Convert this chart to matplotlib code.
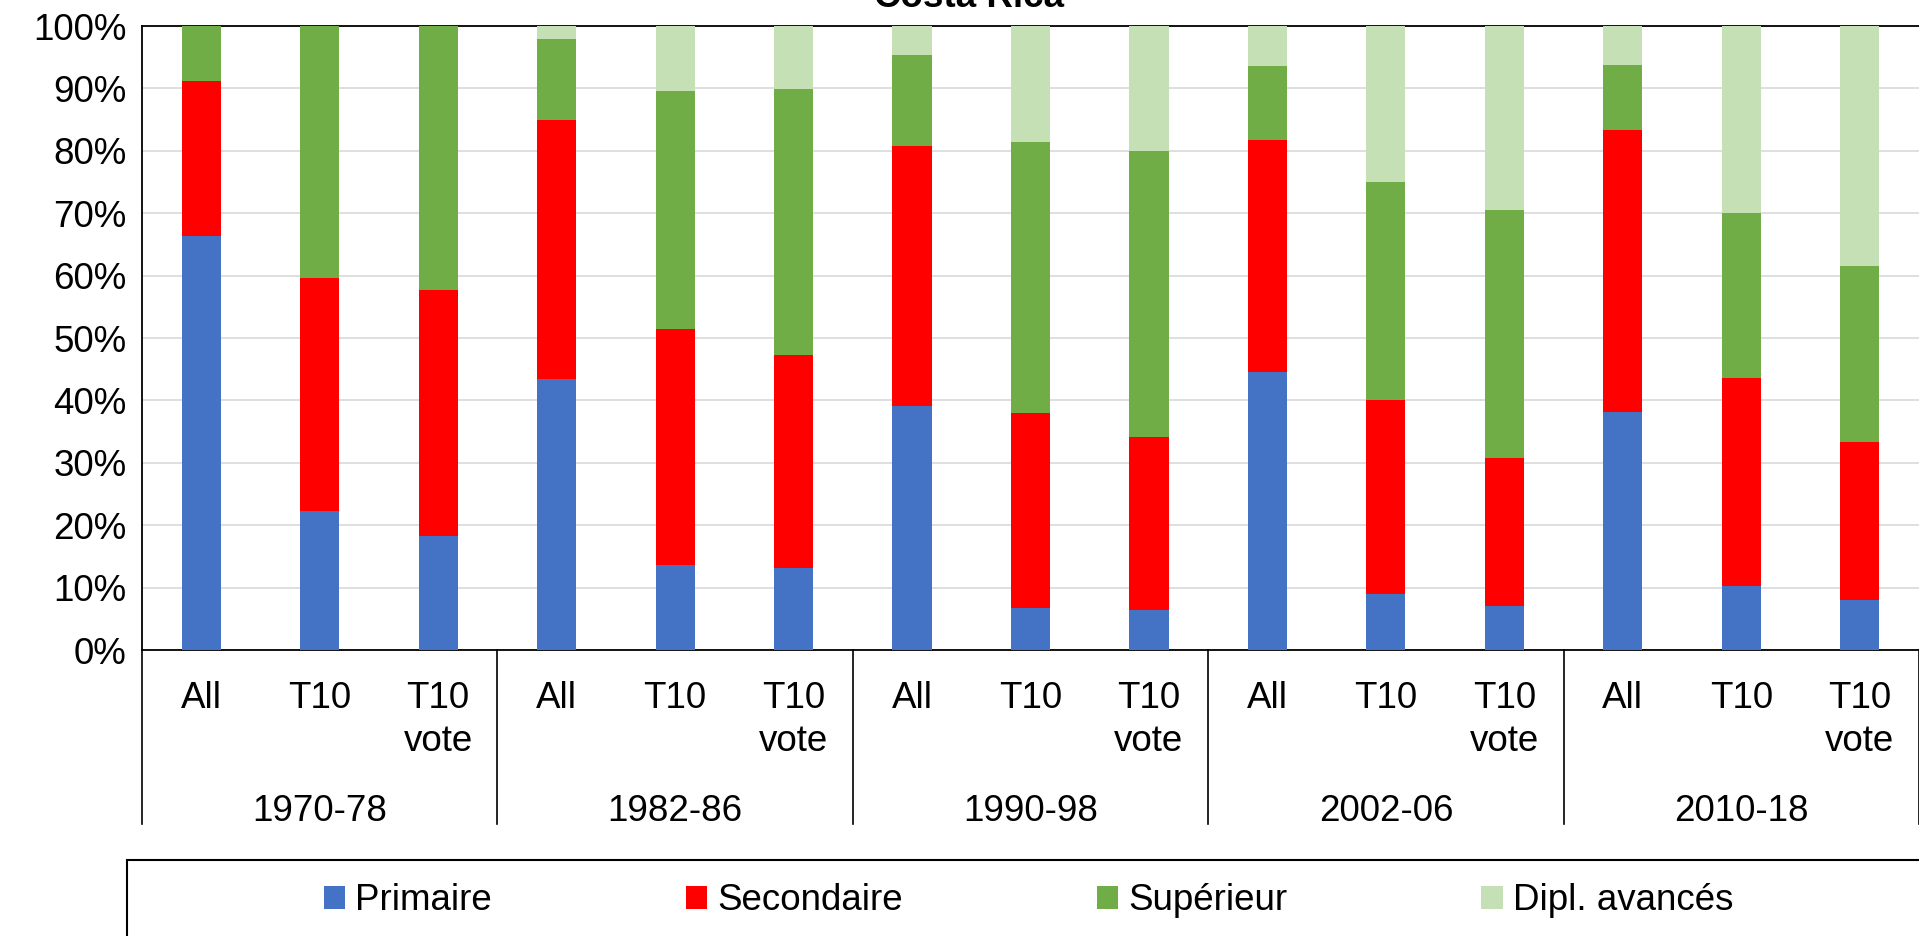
from matplotlib import pyplot as plt
from matplotlib.patches import Rectangle
import matplotlib.transforms as mtransforms
import numpy as np

plt.rcParams['font.family'] = ['Liberation Sans', 'DejaVu Sans']

# data (% of voters by education level)
periods = ['1970-78', '1982-86', '1990-98', '2002-06', '2010-18']
subgroups = ['All', 'T10', 'T10\nvote']
primaire = [66.4, 22.3, 18.3, 43.5, 13.7, 13.1, 39.1, 6.7, 6.4, 44.6, 9.0, 7.1, 38.1, 10.3, 8.0]
secondaire = [24.8, 37.3, 39.4, 41.4, 37.8, 34.1, 41.7, 31.3, 27.8, 37.1, 31.0, 23.7, 45.2, 33.3, 25.4]
superieur = [8.8, 40.4, 42.3, 13.0, 38.1, 42.7, 14.5, 43.4, 45.7, 11.9, 35.0, 39.7, 10.5, 26.5, 28.1]
dipl = [0, 0, 0, 2.1, 10.4, 10.1, 4.7, 18.6, 20.1, 6.4, 25.0, 29.5, 6.2, 29.9, 38.5]

series = [primaire, secondaire, superieur, dipl]
names = ['Primaire', 'Secondaire', 'Supérieur', 'Dipl. avancés']
colors = ['#4472C4', '#FF0000', '#70AD47', '#C5E0B4']

W, H = 1919, 936
fs = 26.5
fig = plt.figure(figsize=(W/100, H/100), dpi=100)
ax = fig.add_axes([142/W, 1-650/H, 1-142/W, (650-26)/H])

x = np.arange(len(primaire))
bottom = np.zeros(len(x))
handles = []
for vals, nm, c in zip(series, names, colors):
    b = ax.bar(x, vals, 0.33, bottom=bottom, color=c, label=nm, zorder=3)
    bottom += np.array(vals)
    handles.append(b)

ax.set_xlim(-0.5, len(x)-0.5)
ax.set_ylim(0, 100)
ax.set_yticks(np.arange(0, 101, 10))
ax.set_yticklabels([f'{v}%' for v in range(0, 101, 10)])
ax.set_xticks(x)
ax.set_xticklabels(subgroups*len(periods), va='top', linespacing=1.3)
ax.tick_params(axis='x', length=0, pad=22, labelsize=fs)
ax.tick_params(axis='y', length=0, pad=11, labelsize=fs)
ax.yaxis.grid(True, color='#d9d9d9', lw=1.2, zorder=0)
ax.spines['right'].set_visible(False)
for s in ['left', 'top', 'bottom']:
    ax.spines[s].set_color('black')
    ax.spines[s].set_linewidth(1.3)

# group labels and separators
trans = mtransforms.blended_transform_factory(ax.transData, ax.transAxes)
for i, p in enumerate(periods):
    ax.text(3*i+1, -0.259, p, transform=trans, ha='center', va='center', fontsize=fs)
for bnd in np.arange(-0.5, len(x), 3):
    ax.plot([bnd, bnd], [0, -0.279], transform=trans, color='black', lw=1.2, clip_on=False)

fig.text(0.505, 1-7/H, 'Costa Rica', ha='center', va='baseline', fontsize=fs, fontweight='bold')

# legend box
fig.patches.append(Rectangle((127/W, -0.1), 2, (H-860)/H+0.1, transform=fig.transFigure,
                             facecolor='none', edgecolor='black', lw=1.5))
fig.legend(handles=handles, labels=names, loc='center left', bbox_to_anchor=(324/W, 1-901/H),
           ncol=4, frameon=False, fontsize=fs, handlelength=0.58, handleheight=0.6,
           handletextpad=0.27, columnspacing=5.27, borderpad=0, borderaxespad=0)

plt.savefig('out.png', dpi=100)
